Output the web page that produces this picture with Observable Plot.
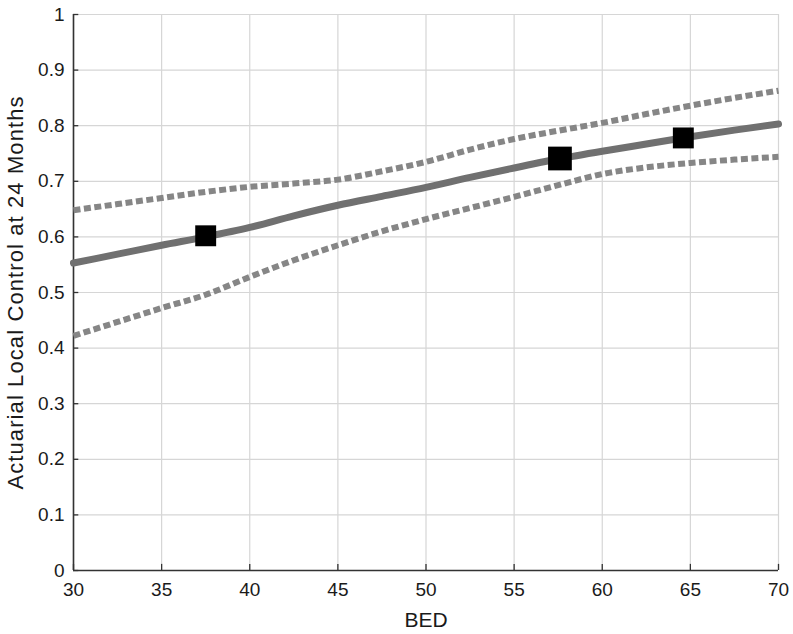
<!DOCTYPE html>
<html>
<head>
<meta charset="utf-8">
<script src="https://cdn.jsdelivr.net/npm/d3@7"></script>
<script src="https://cdn.jsdelivr.net/npm/@observablehq/plot@0.6"></script>
<style>
  html, body { margin: 0; padding: 0; background: #fff; }
  #chart svg { display: block; }
</style>
</head>
<body>
<div id="chart"></div>
<script>
const bed      = [30, 32.5, 35, 37.5, 40, 42.5, 45, 47.5, 50, 52.5, 55, 57.5, 60, 62.5, 65, 67.5, 70];
const fitted   = [0.553, 0.569, 0.585, 0.600, 0.617, 0.638, 0.657, 0.673, 0.689, 0.707, 0.724, 0.740, 0.754, 0.767, 0.780, 0.792, 0.803];
const upperCI  = [0.648, 0.659, 0.670, 0.681, 0.690, 0.696, 0.703, 0.718, 0.735, 0.757, 0.776, 0.791, 0.805, 0.821, 0.836, 0.850, 0.863];
const lowerCI  = [0.422, 0.447, 0.472, 0.496, 0.528, 0.558, 0.585, 0.610, 0.632, 0.652, 0.672, 0.693, 0.713, 0.725, 0.733, 0.739, 0.744];
const markX    = [37.5, 57.6, 64.6];
const markY    = [0.602, 0.741, 0.778];
const markR    = [11.8, 13.4, 11.8];
const xTicks   = [30, 35, 40, 45, 50, 55, 60, 65, 70];
const yTicks   = [0, 0.1, 0.2, 0.3, 0.4, 0.5, 0.6, 0.7, 0.8, 0.9, 1];

const curve = bed.map((b, i) => ({bed: b, fit: fitted[i], up: upperCI[i], lo: lowerCI[i]}));
const marks = markX.map((x, i) => ({x, y: markY[i], r: markR[i]}));

const font = "'Liberation Sans', Arial, sans-serif";

const chart = Plot.plot({
  width: 793,
  height: 634,
  marginLeft: 73,
  marginRight: 15,
  marginTop: 14,
  marginBottom: 64,
  style: {fontFamily: font, fontSize: "19px", color: "#1a1a1a", background: "#fff"},
  x: {domain: [30, 70]},
  y: {domain: [0, 1]},
  r: {type: "identity"},
  marks: [
    Plot.gridX(xTicks, {stroke: "#d6d6d6", strokeOpacity: 1, strokeWidth: 1.2}),
    Plot.gridY(yTicks, {stroke: "#d6d6d6", strokeOpacity: 1, strokeWidth: 1.2}),
    Plot.axisX(xTicks, {tickSize: 0, tickPadding: 12, fontSize: 19, label: "BED", labelAnchor: "center", labelArrow: "none", labelOffset: 56, tickFormat: d => String(d)}),
    Plot.axisY(yTicks, {tickSize: 0, tickPadding: 9, fontSize: 19, label: "Actuarial Local Control at 24 Months", labelAnchor: "center", labelArrow: "none", labelOffset: 66, tickFormat: d => String(d)}),
    Plot.ruleX(xTicks, {y1: 0, y2: 0.011, stroke: "#333", strokeWidth: 1.3}),
    Plot.ruleY(yTicks, {x1: 30, x2: 30.3, stroke: "#333", strokeWidth: 1.3}),
    Plot.ruleX([30], {stroke: "#333", strokeWidth: 1.6}),
    Plot.ruleY([0], {stroke: "#333", strokeWidth: 1.6}),
    Plot.line(curve, {x: "bed", y: "up", stroke: "#868686", strokeWidth: 6, strokeDasharray: "7,3.5", strokeLinecap: "butt", curve: "monotone-x"}),
    Plot.line(curve, {x: "bed", y: "lo", stroke: "#868686", strokeWidth: 6, strokeDasharray: "7,3.5", strokeLinecap: "butt", curve: "monotone-x"}),
    Plot.line(curve, {x: "bed", y: "fit", stroke: "#707070", strokeWidth: 7, curve: "monotone-x"}),
    Plot.dot(marks, {x: "x", y: "y", r: "r", symbol: "square", fill: "#000", stroke: "none"})
  ]
});

chart.querySelectorAll("[aria-label='x-axis label'] text").forEach(t => t.setAttribute("font-size", "21"));
chart.querySelectorAll("[aria-label='y-axis label'] text").forEach(t => { t.setAttribute("font-size", "22"); t.setAttribute("letter-spacing", "1.1"); });
document.getElementById("chart").appendChild(chart);
</script>
</body>
</html>
